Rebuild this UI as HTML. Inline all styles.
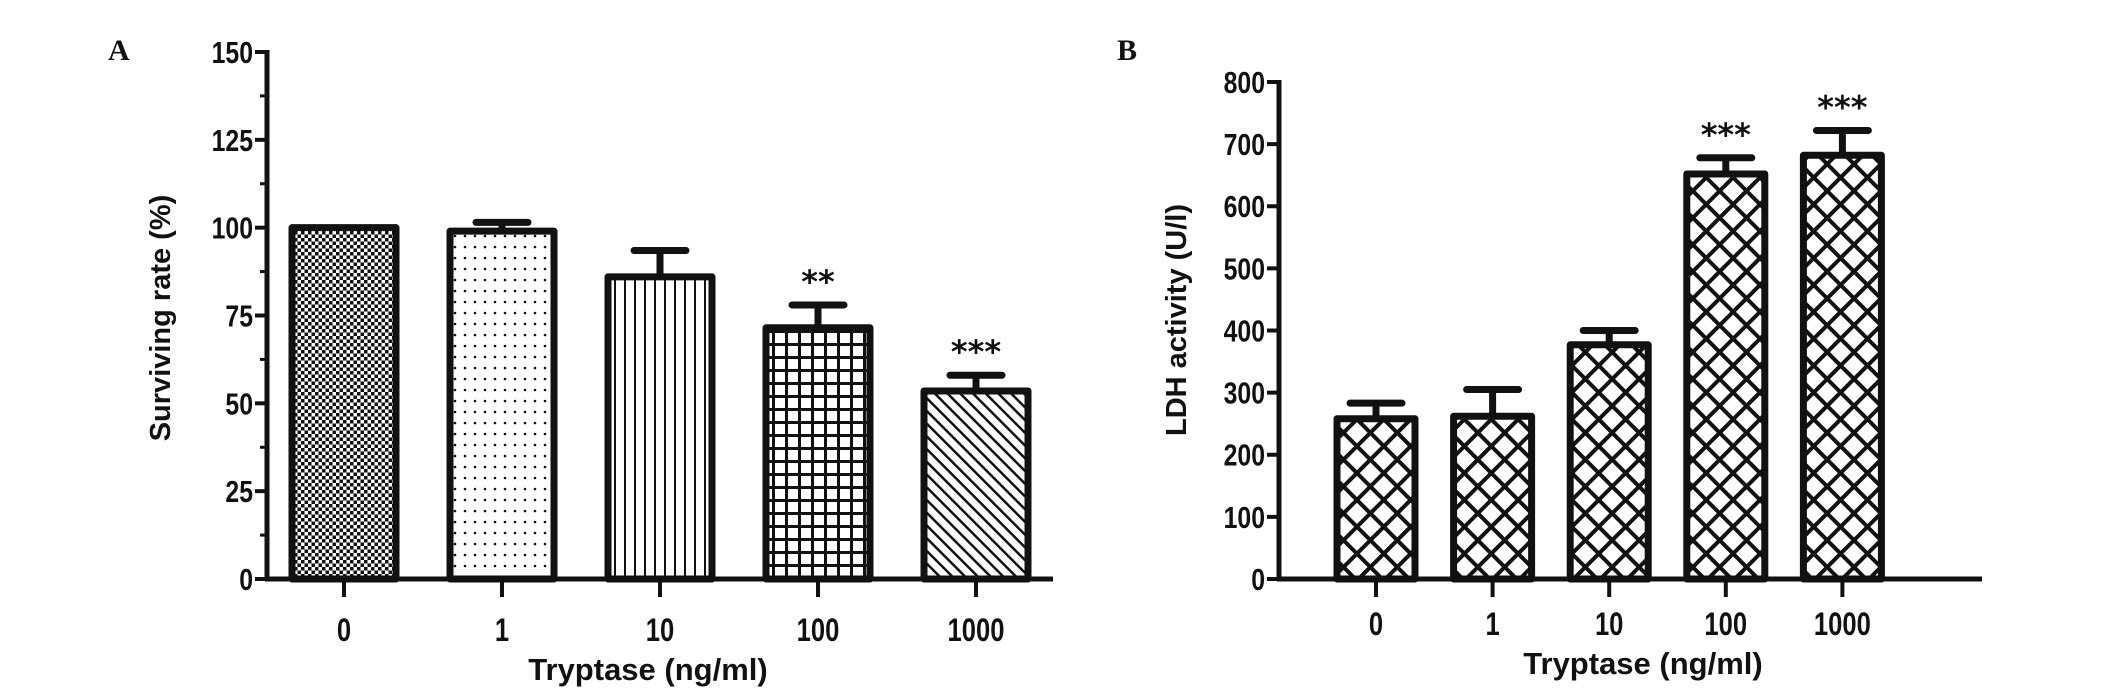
<!DOCTYPE html>
<html><head><meta charset="utf-8"><style>
body{margin:0;background:#fff;}
svg{display:block;}
text{font-family:"Liberation Sans",Arial,sans-serif;font-weight:bold;fill:#111;}
.pl{font-family:"Liberation Serif",serif;font-size:30px;}
.ast{font-family:"DejaVu Sans",sans-serif;font-weight:bold;font-size:32px;}
</style></head><body>
<svg id="fig" width="2126" height="692" viewBox="0 0 2126 692" xmlns="http://www.w3.org/2000/svg">
<defs>
<pattern id="pChk" width="7" height="7" patternUnits="userSpaceOnUse"><rect width="7" height="7" fill="#fff"/><rect width="3.5" height="3.5" fill="#111"/><rect x="3.5" y="3.5" width="3.5" height="3.5" fill="#111"/></pattern>
<pattern id="pDot" width="10" height="11" patternUnits="userSpaceOnUse"><rect width="10" height="11" fill="#fff"/><circle cx="5" cy="5" r="1.3" fill="#111"/></pattern>
<pattern id="pVer" width="10" height="10" patternUnits="userSpaceOnUse"><rect width="10" height="10" fill="#fff"/><rect x="4" width="2" height="10" fill="#111"/></pattern>
<pattern id="pGrid" width="13" height="13" patternUnits="userSpaceOnUse"><rect width="13" height="13" fill="#fff"/><rect x="5" width="3" height="13" fill="#111"/><rect y="5" width="13" height="3" fill="#111"/></pattern>
<pattern id="pDiag" width="9" height="9" patternUnits="userSpaceOnUse" patternTransform="rotate(-45)"><rect width="9" height="9" fill="#fff"/><rect x="3.5" width="2.5" height="9" fill="#111"/></pattern>
<pattern id="pX" width="19" height="19" patternUnits="userSpaceOnUse" patternTransform="rotate(45)"><rect width="19" height="19" fill="#fff"/><rect x="0" width="4" height="19" fill="#111"/><rect y="0" width="19" height="4" fill="#111"/></pattern>
</defs>
<g id="A"></g>
<g id="B"></g>
</svg>
<script>
const categories = ["0","1","10","100","1000"];
const survValues = [100, 99, 86, 71.5, 53.5];
const survErrors = [0, 2.5, 7.5, 6.5, 4.5];
const survSig = ["", "", "", "**", "***"];
const survTicks = [0,25,50,75,100,125,150];
const ldhValues = [258, 262, 377, 652, 682];
const ldhErrors = [25, 43, 23, 26, 40];
const ldhSig = ["", "", "", "***", "***"];
const ldhTicks = [0,100,200,300,400,500,600,700,800];

const NS="http://www.w3.org/2000/svg";
function mk(parent, tag, attrs, txt){
  const e=document.createElementNS(NS,tag);
  for(const k in attrs) e.setAttribute(k,attrs[k]);
  if(txt!==undefined) e.textContent=txt;
  parent.appendChild(e); return e;
}
function drawPanel(g, cfg){
  const y = v => cfg.y0 - (v/cfg.max)*(cfg.y0-cfg.yTop);
  const x = i => cfg.x0c + i*cfg.step;
  let el=mk(g,'line',{x1:cfg.ax,y1:y(cfg.max)-2,x2:cfg.ax,y2:cfg.y0+2,stroke:'#111','stroke-width':5});
  
  
  el=mk(g,'line',{x1:cfg.ax-2,y1:cfg.y0,x2:cfg.axEnd,y2:cfg.y0,stroke:'#111','stroke-width':5});
  
  
  cfg.ticks.forEach((t,i)=>{
    let tk=mk(g,'line',{x1:cfg.ax-12,y1:y(t),x2:cfg.ax,y2:y(t),stroke:'#111','stroke-width':4});
    
    
    let lb=mk(g,'text',{x:cfg.ax-14,y:y(t)+11,'text-anchor':'end','font-size':31,transform:`translate(${cfg.ax-14},0) scale(0.8,1) translate(${-(cfg.ax-14)},0)`},String(t));
    
    
    if(cfg.minor && i<cfg.ticks.length-1){
      const m=(t+cfg.ticks[i+1])/2;
      let mt=mk(g,'line',{x1:cfg.ax-7,y1:y(m),x2:cfg.ax,y2:y(m),stroke:'#111','stroke-width':3});
      
      
    }
  });
  categories.forEach((c,i)=>{
    const cx=x(i), v=cfg.values[i], e=cfg.errors[i], w=cfg.bw;
    if(e>0){
      let st=mk(g,'line',{x1:cx,y1:y(v),x2:cx,y2:y(v+e),stroke:'#111','stroke-width':7});
      
      
      let cp=mk(g,'line',{x1:cx-cfg.cap/2,y1:y(v+e),x2:cx+cfg.cap/2,y2:y(v+e),stroke:'#111','stroke-width':7,'stroke-linecap':'round'});
      
      
    }
    let b=mk(g,'rect',{x:cx-w/2,y:y(v),width:w,height:cfg.y0-y(v),fill:`url(#${cfg.fills[i]})`,stroke:'#111','stroke-width':7,'stroke-linejoin':'round'});
    
    
    let xt=mk(g,'line',{x1:cx,y1:cfg.y0,x2:cx,y2:cfg.y0+18,stroke:'#111','stroke-width':4});
    
    
    let xl=mk(g,'text',{x:cx,y:cfg.xlY,'text-anchor':'middle','font-size':32,transform:`translate(${cx},0) scale(0.8,1) translate(${-cx},0)`},c);
    
    
    if(cfg.sig[i]){
      let s=mk(g,'text',{x:cx,y:y(v+e)-12,'text-anchor':'middle',class:'ast'},cfg.sig[i]);
      
      
    }
  });
  let xt=mk(g,'text',{x:cfg.xtX,y:cfg.xtY,'text-anchor':'middle','font-size':31},'Tryptase (ng/ml)');
  
  
  let yt=mk(g,'text',{x:0,y:0,'text-anchor':'middle','font-size':29,transform:`translate(${cfg.ytX},${cfg.ytY}) rotate(-90)`},cfg.ytitle);
  
  
  let pl=mk(g,'text',{x:cfg.plX,y:60,class:'pl'},cfg.pl);
  
  
}
drawPanel(document.getElementById('A'),{
  ax:267, axEnd:1053, y0:579, yTop:52, max:150, ticks:survTicks, minor:true,
  x0c:344, step:158, bw:104, cap:52, values:survValues, errors:survErrors, sig:survSig,
  fills:['pChk','pDot','pVer','pGrid','pDiag'], xlY:641, xtX:648, xtY:680,
  ytX:170, ytY:318, ytitle:'Surviving rate (%)', pl:'A', plX:108
});
drawPanel(document.getElementById('B'),{
  ax:1279, axEnd:1982, y0:579, yTop:82, max:800, ticks:ldhTicks, minor:false,
  x0c:1376, step:116.6, bw:78, cap:52, values:ldhValues, errors:ldhErrors, sig:ldhSig,
  fills:['pX','pX','pX','pX','pX'], xlY:635, xtX:1643, xtY:674,
  ytX:1186, ytY:320, ytitle:'LDH activity (U/l)', pl:'B', plX:1117
});
</script>
</body></html>
